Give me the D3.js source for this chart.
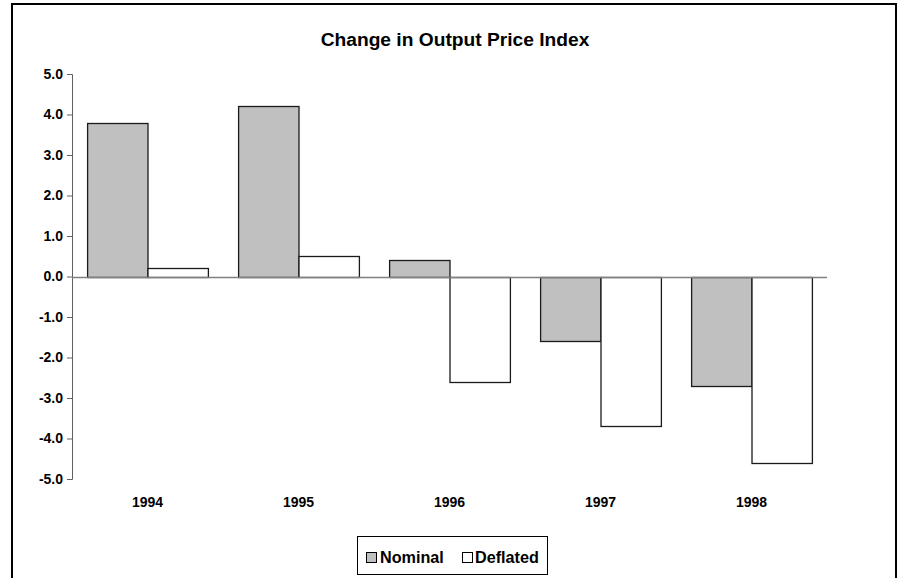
<!DOCTYPE html>
<html><head><meta charset="utf-8">
<script src="https://cdn.jsdelivr.net/npm/d3@7"></script>
<style>
html,body{margin:0;padding:0;background:#fff;}
svg{display:block;font-family:"Liberation Sans",Arial,sans-serif;}
</style></head>
<body>
<svg id="chart" width="901" height="578"></svg>
<script>
const title = "Change in Output Price Index";
const categories = ["1994","1995","1996","1997","1998"];
const seriesNames = ["Nominal","Deflated"];
const nominal = [3.8, 4.2, 0.4, -1.6, -2.7];
const deflated = [0.2, 0.5, -2.6, -3.7, -4.6];
const yTicks = [5,4,3,2,1,0,-1,-2,-3,-4,-5];
const seriesFill = ["#c0c0c0","#ffffff"];

const svg = d3.select("#chart");
const W = 901, H = 578;
svg.append("rect").attr("width",W).attr("height",H).attr("fill","#fff");
// outer chart frame
svg.append("rect").attr("x",12).attr("y",4).attr("width",884).attr("height",620)
  .attr("fill","none").attr("stroke","#000").attr("stroke-width",2);

const plot = {left:72, right:827, top:74, bottom:479};
const y = d3.scaleLinear().domain([-5,5]).range([plot.bottom, plot.top]);
const x0 = d3.scaleBand().domain(categories).range([plot.left, plot.right])
  .paddingInner(0.2).paddingOuter(0.1);
const x1 = d3.scaleBand().domain(seriesNames).range([0, x0.bandwidth()]);

// title
svg.append("text").attr("x",455).attr("y",46).attr("text-anchor","middle")
  .attr("font-size","19.2px").attr("font-weight","bold").attr("fill","#000").text(title);

// y axis
const yAxis = d3.axisLeft(y).tickValues(yTicks).tickSize(5).tickPadding(4)
  .tickFormat(d3.format(".1f"));
const gy = svg.append("g").attr("transform",`translate(${plot.left},0)`).call(yAxis);
gy.select(".domain").attr("stroke","#606060");
gy.selectAll(".tick line").attr("stroke","#606060");
gy.selectAll(".tick text").attr("font-size","14px").attr("font-weight","bold")
  .attr("fill","#000").attr("font-family","Liberation Sans, Arial, sans-serif")
  .text(d => d3.format(".1f")(d).replace("−","-"));

// bars
const rows = categories.map((c,i)=>({cat:c, vals:[nominal[i], deflated[i]]}));
const groups = svg.append("g").selectAll("g").data(rows).join("g")
  .attr("transform", d => `translate(${x0(d.cat)},0)`);
groups.selectAll("rect").data(d => d.vals.map((v,j)=>({v, s:seriesNames[j], j})))
  .join("rect")
  .attr("x", d => x1(d.s)+0.5)
  .attr("width", x1.bandwidth())
  .attr("y", d => Math.round(y(Math.max(0,d.v)))+0.5)
  .attr("height", d => Math.abs(Math.round(y(d.v)) - Math.round(y(0))))
  .attr("fill", d => seriesFill[d.j])
  .attr("stroke","#1a1a1a").attr("stroke-width",1.3);

// zero line
svg.append("line").attr("x1",plot.left).attr("x2",plot.right)
  .attr("y1",Math.round(y(0))+0.5).attr("y2",Math.round(y(0))+0.5)
  .attr("stroke","#808080").attr("stroke-width",1.5);

// category labels
svg.append("g").selectAll("text").data(categories).join("text")
  .attr("x", d => x0(d)+x0.bandwidth()/2).attr("y",507)
  .attr("text-anchor","middle").attr("font-size","14px").attr("font-weight","bold")
  .attr("fill","#000").text(d=>d);

// legend
const lg = svg.append("g");
lg.append("rect").attr("x",357.5).attr("y",536.5).attr("width",190).attr("height",38)
  .attr("fill","#fff").attr("stroke","#000").attr("stroke-width",1);
const legendItems = [{x:366, tx:380}, {x:462, tx:475}];
seriesNames.forEach((s,i)=>{
  lg.append("rect").attr("x",legendItems[i].x+0.5).attr("y",552.5).attr("width",10).attr("height",10)
    .attr("fill",seriesFill[i]).attr("stroke","#000").attr("stroke-width",1);
  lg.append("text").attr("x",legendItems[i].tx).attr("y",563).attr("font-size","16.2px")
    .attr("font-weight","bold").attr("fill","#000").text(s);
});
</script>
</body></html>
